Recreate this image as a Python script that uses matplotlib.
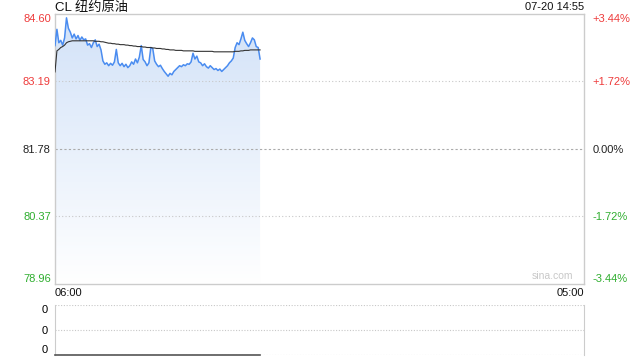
import numpy as np
import matplotlib
matplotlib.use('Agg')
import matplotlib.pyplot as plt
from matplotlib.patches import Polygon
from matplotlib.colors import LinearSegmentedColormap

plt.rcParams['font.family'] = ['Liberation Sans', 'Noto Sans CJK SC', 'DejaVu Sans']

#---------------------------- data ----------------------------
title = 'CL 纽约原油'
stamp = '07-20 14:55'
x_labels = ['06:00', '05:00']
day_minutes = 1380          # 06:00 -> 05:00
minutes = list(range(0, 536, 5))

price = [83.94, 84.28, 84.00, 84.05, 83.95, 84.10, 84.52, 84.30, 84.22, 84.10,
         84.18, 84.08, 84.15, 84.05, 84.12, 84.06, 84.08, 83.95, 83.98, 83.90,
         84.00, 84.06, 83.92, 83.97, 83.85, 83.62, 83.55, 83.58, 83.52, 83.57,
         83.53, 83.60, 83.86, 83.58, 83.52, 83.57, 83.50, 83.55, 83.48, 83.52,
         83.60, 83.55, 83.66, 83.58, 83.70, 83.94, 83.65, 83.60, 83.52, 83.58,
         83.90, 83.88, 83.62, 83.55, 83.50, 83.53, 83.46, 83.40, 83.35, 83.30,
         83.36, 83.33, 83.40, 83.44, 83.48, 83.52, 83.50, 83.54, 83.52, 83.56,
         83.55, 83.60, 83.78, 83.66, 83.72, 83.60, 83.58, 83.52, 83.56, 83.50,
         83.47, 83.52, 83.48, 83.44, 83.46, 83.42, 83.45, 83.40, 83.44, 83.48,
         83.52, 83.58, 83.62, 83.68, 83.90, 84.00, 83.96, 84.08, 84.22, 84.05,
         83.98, 83.92, 84.00, 84.10, 84.06, 83.92, 83.90, 83.66]

avg = [83.39, 83.83, 83.86, 83.90, 83.92, 83.95, 84.00, 84.02, 84.03, 84.04,
       84.04, 84.04, 84.04, 84.04, 84.04, 84.04, 84.04, 84.04, 84.04, 84.04,
       84.04, 84.03, 84.03, 84.03, 84.02, 84.02, 84.01, 84.00, 83.99, 83.99,
       83.98, 83.98, 83.97, 83.97, 83.96, 83.96, 83.96, 83.95, 83.95, 83.94,
       83.94, 83.93, 83.93, 83.92, 83.92, 83.92, 83.91, 83.91, 83.90, 83.90,
       83.90, 83.89, 83.89, 83.88, 83.88, 83.88, 83.87, 83.87, 83.86, 83.86,
       83.85, 83.85, 83.85, 83.84, 83.84, 83.84, 83.84, 83.83, 83.83, 83.83,
       83.83, 83.83, 83.83, 83.82, 83.82, 83.82, 83.82, 83.82, 83.82, 83.82,
       83.82, 83.82, 83.82, 83.81, 83.81, 83.81, 83.81, 83.81, 83.81, 83.81,
       83.81, 83.81, 83.81, 83.81, 83.82, 83.82, 83.82, 83.83, 83.83, 83.84,
       83.84, 83.84, 83.85, 83.85, 83.85, 83.85, 83.85, 83.85]

volume = [0] * len(minutes)

price_ticks = [78.96, 80.37, 81.78, 83.19, 84.60]
price_tick_labels = ['78.96', '80.37', '81.78', '83.19', '84.60']
pct_labels = ['-3.44%', '-1.72%', '0.00%', '+1.72%', '+3.44%']
vol_ticks = [0, 0.5, 1]
vol_tick_labels = ['0', '0', '0']

#---------------------------- colours ----------------------------
red = '#ee3b3b'
green = '#2fae2f'
tick_colors = [green, green, '#222222', red, red]
frame = '#cccccc'

#---------------------------- figure ----------------------------
fig = plt.figure(figsize=(6.4, 3.6), dpi=100)
ax = fig.add_axes([55 / 640, 1 - 284 / 360, 529 / 640, 270 / 360])
axv = fig.add_axes([55 / 640, 1 - 355 / 360, 529 / 640, 50 / 360])

lo, hi = price_ticks[0], price_ticks[-1]
ax.set_xlim(0, day_minutes)
ax.set_ylim(lo, hi)

# gradient fill below the price line
verts = [(minutes[0], lo)] + list(zip(minutes, price)) + [(minutes[-1], lo)]
clip = Polygon(verts, facecolor='none', edgecolor='none')
ax.add_patch(clip)
cmap = LinearSegmentedColormap.from_list('fade', ['#ffffff', '#d2e2f8'])
grad = np.linspace(1, 0, 256).reshape(-1, 1)
img = ax.imshow(grad, extent=[minutes[0], minutes[-1], lo, hi], aspect='auto',
                cmap=cmap, origin='upper', zorder=1)
img.set_clip_path(clip)

# grid
for p in price_ticks[1:-1]:
    if p == 81.78:
        ax.axhline(p, color='#aaaaaa', lw=0.8, ls=(0, (2, 2)), zorder=2)
    else:
        ax.axhline(p, color='#c8c8c8', lw=0.8, ls=(0, (1, 2)), zorder=2)

ax.plot(minutes, price, color='#4a8cf0', lw=1.1, zorder=3)
ax.plot(minutes, avg, color='#333333', lw=0.8, zorder=4)

for s in ax.spines.values():
    s.set_color(frame)
    s.set_linewidth(1)

ax.set_xticks([])
ax.set_yticks(price_ticks)
ax.set_yticklabels(price_tick_labels)
ax.tick_params(axis='y', length=0, pad=3, labelsize=8)
for lab, c in zip(ax.get_yticklabels(), tick_colors):
    lab.set_color(c)
ax.get_yticklabels()[0].set_va('bottom')
ax.get_yticklabels()[-1].set_va('top')

ax2 = ax.twinx()
ax2.set_ylim(lo, hi)
ax2.set_yticks(price_ticks)
ax2.set_yticklabels(pct_labels)
ax2.tick_params(axis='y', length=0, pad=6, labelsize=8)
for lab, c in zip(ax2.get_yticklabels(), tick_colors):
    lab.set_color(c)
ax2.get_yticklabels()[0].set_va('bottom')
ax2.get_yticklabels()[-1].set_va('top')
for s in ax2.spines.values():
    s.set_visible(False)

# texts
fig.text(55 / 640, 1 - 7.5 / 360, title, ha='left', va='center',
         fontsize=9.5, color='#111111')
fig.text(584 / 640, 1 - 7.5 / 360, stamp, ha='right', va='center',
         fontsize=8, color='#111111')
ax.text(0.98, 0.01, 'sina.com', transform=ax.transAxes, ha='right', va='bottom',
        fontsize=7.5, color='#c8c8c8')
ax.text(0, -0.015, x_labels[0], transform=ax.transAxes, ha='left', va='top',
        fontsize=8, color='#111111')
ax.text(1, -0.015, x_labels[1], transform=ax.transAxes, ha='right', va='top',
        fontsize=8, color='#111111')

# volume panel
axv.set_xlim(0, day_minutes)
axv.set_ylim(0, 1)
for v in vol_ticks:
    axv.axhline(v, color='#c8c8c8', lw=0.8, ls=(0, (1, 1.5)), zorder=1)
axv.plot(minutes, volume, color='#555555', lw=1.2, zorder=3, clip_on=False)
axv.spines['top'].set_visible(False)
axv.spines['bottom'].set_visible(False)
axv.spines['left'].set_color(frame)
axv.spines['right'].set_color(frame)
axv.set_xticks([])
axv.set_yticks(vol_ticks)
axv.set_yticklabels(vol_tick_labels)
axv.tick_params(axis='y', length=0, pad=5, labelsize=8)
axv.get_yticklabels()[0].set_va('bottom')
axv.get_yticklabels()[-1].set_va('top')

fig.savefig('out.png', dpi=100)
